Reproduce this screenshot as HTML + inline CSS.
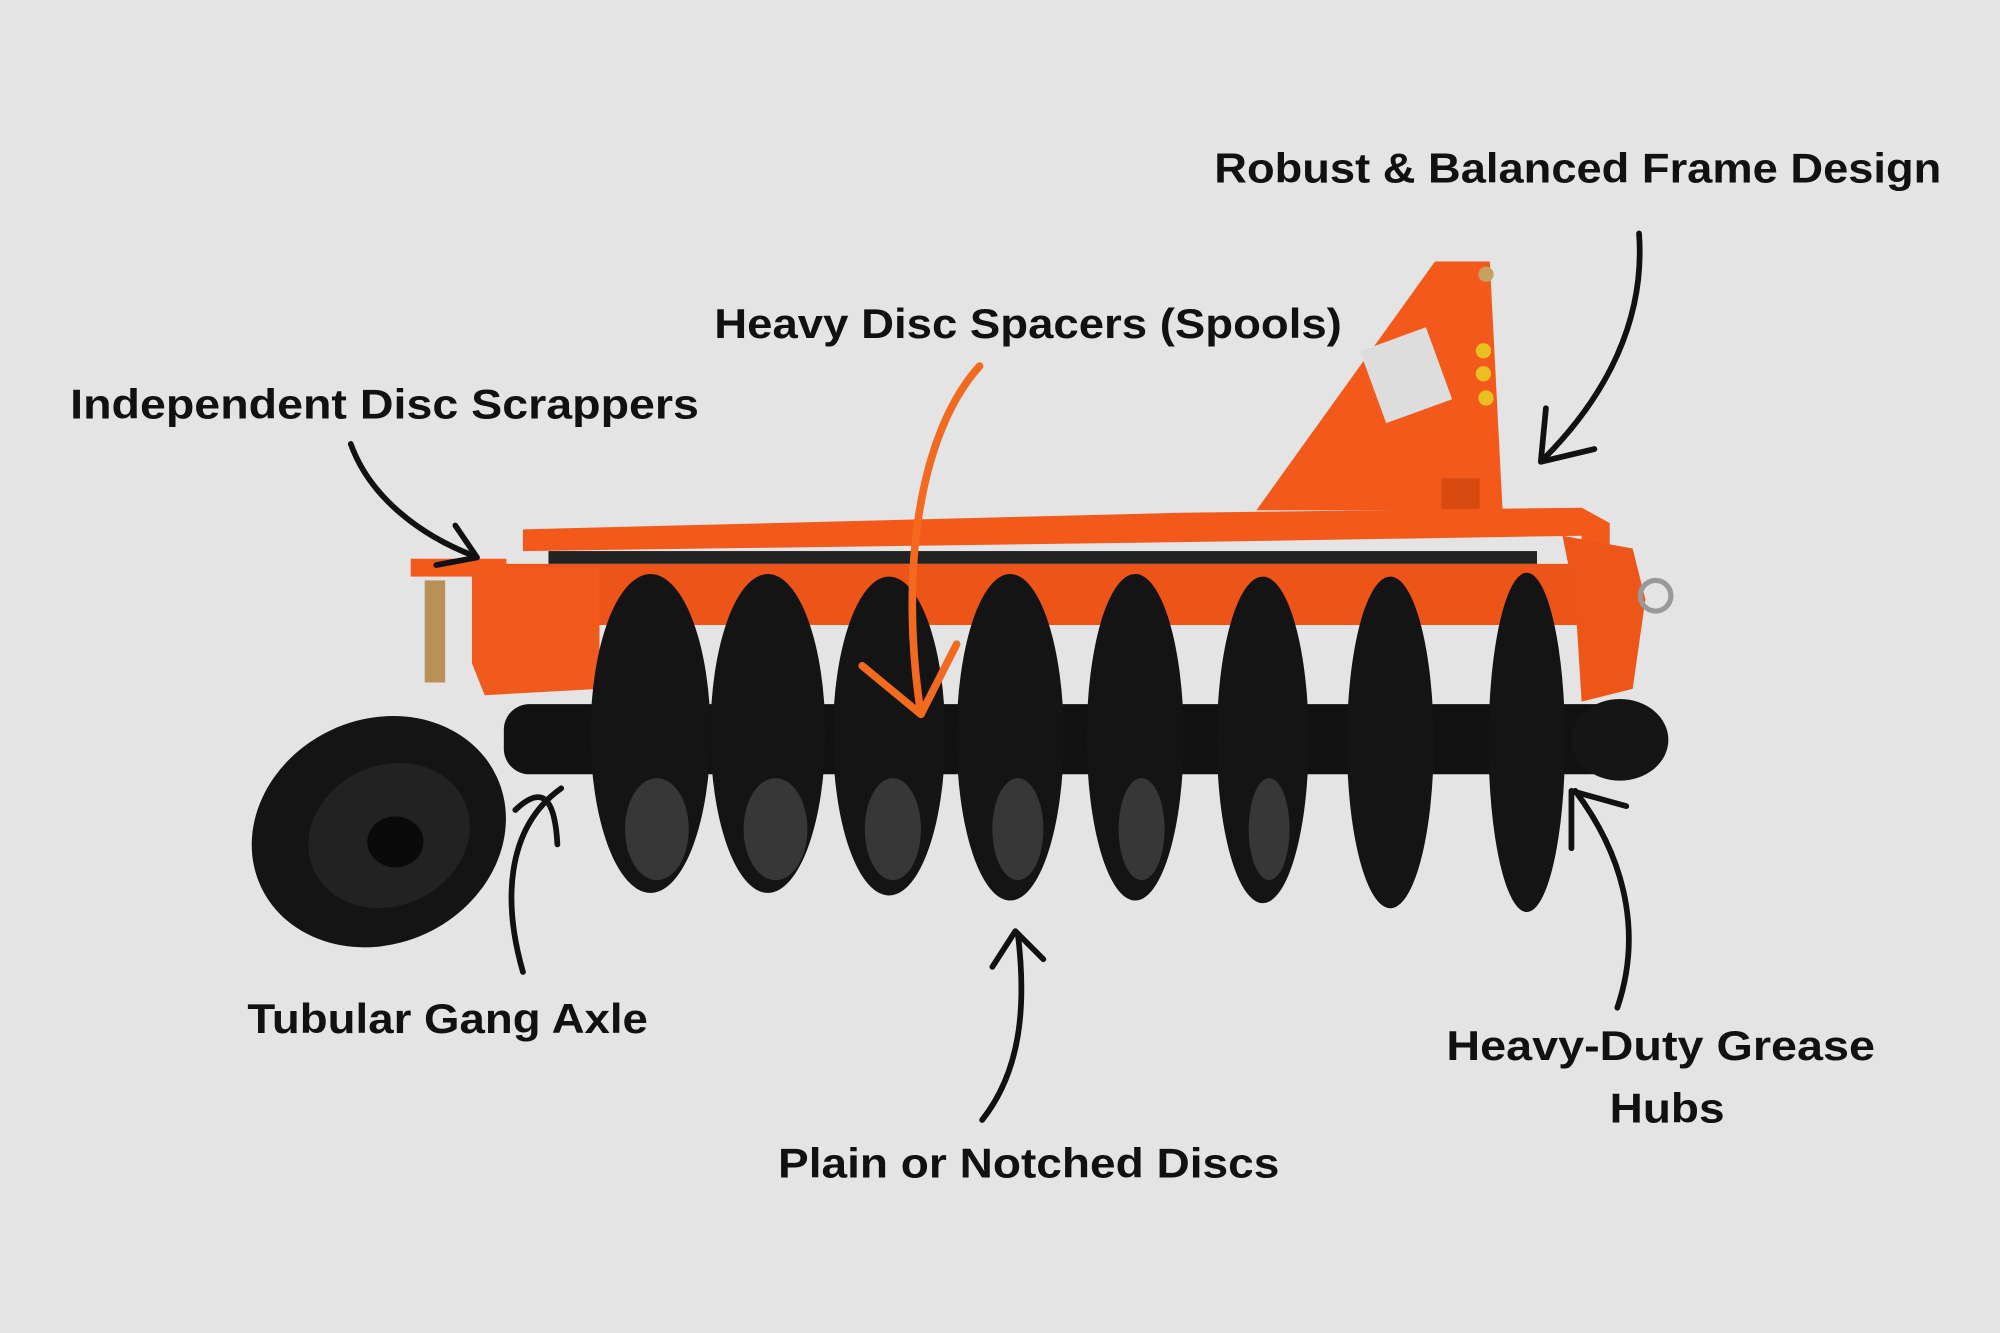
<!DOCTYPE html>
<html><head><meta charset="utf-8">
<style>
html,body{margin:0;padding:0;background:#e4e4e4;}
svg{display:block;}
text{font-family:"Liberation Sans",Arial,sans-serif;font-weight:bold;fill:#111;font-size:33px;}
</style></head>
<body>
<svg width="2000" height="1333" viewBox="0 0 1568 1045" xmlns="http://www.w3.org/2000/svg">
<rect width="1568" height="1045" fill="#e4e4e4"/>

<!-- mast -->
<polygon points="985,400 1125,205 1168,205 1178,400" fill="#f2591a"/>
<rect x="1130" y="375" width="30" height="30" fill="#d94a10"/>
<rect x="1075" y="265" width="55" height="60" fill="#ddd" transform="rotate(-20 1100 295)"/>
<circle cx="1165" cy="215" r="6" fill="#c8a060"/>
<circle cx="1163" cy="275" r="6" fill="#e8c020"/><circle cx="1163" cy="293" r="6" fill="#e8c020"/><circle cx="1165" cy="312" r="6" fill="#e8c020"/>
<!-- top frame bar -->
<polygon points="410,415 925,402 1240,398 1262,410 1262,520 1240,520 1240,420 925,425 410,432" fill="#f2591a"/>
<!-- lower tube -->
<rect x="385" y="442" width="870" height="48" rx="10" fill="#ec5418"/>
<rect x="430" y="432" width="775" height="10" fill="#222"/>
<!-- left bracket -->
<rect x="322" y="438" width="75" height="14" fill="#f2591a"/>
<polygon points="370,445 400,445 470,445 470,540 380,545 370,520" fill="#f05a1c"/>
<rect x="333" y="455" width="16" height="80" fill="#b89058"/>
<!-- right bracket -->
<polygon points="1225,420 1280,430 1290,470 1280,540 1240,550 1235,470" fill="#ee5619"/>
<circle cx="1298" cy="467" r="12" fill="none" stroke="#999" stroke-width="4"/>

<!-- axle -->
<rect x="395" y="552" width="905" height="55" rx="20" fill="#111"/>
<ellipse cx="1270" cy="580" rx="38" ry="32" fill="#151515"/>
<!-- discs -->
<g fill="#141414">
<ellipse cx="510" cy="575" rx="47" ry="125"/>
<ellipse cx="602" cy="575" rx="45" ry="125"/>
<ellipse cx="697" cy="577" rx="44" ry="125"/>
<ellipse cx="792" cy="578" rx="42" ry="128"/>
<ellipse cx="890" cy="578" rx="38" ry="128"/>
<ellipse cx="990" cy="580" rx="36" ry="128"/>
<ellipse cx="1090" cy="582" rx="34" ry="130"/>
<ellipse cx="1197" cy="582" rx="30" ry="133"/>
</g>
<g fill="#5a5a5a" opacity="0.5">
<ellipse cx="515" cy="650" rx="25" ry="40"/><ellipse cx="608" cy="650" rx="25" ry="40"/>
<ellipse cx="700" cy="650" rx="22" ry="40"/><ellipse cx="798" cy="650" rx="20" ry="40"/>
<ellipse cx="895" cy="650" rx="18" ry="40"/><ellipse cx="995" cy="650" rx="16" ry="40"/>
</g>
<!-- wheel -->
<ellipse cx="297" cy="652" rx="102" ry="88" fill="#141414" transform="rotate(-25 297 652)"/>
<ellipse cx="305" cy="655" rx="65" ry="55" fill="#222" transform="rotate(-25 305 655)"/>
<ellipse cx="310" cy="660" rx="22" ry="20" fill="#0a0a0a"/>

<!-- arrows -->
<g fill="none" stroke="#111" stroke-width="4.5" stroke-linecap="round" stroke-linejoin="round">
<path d="M1285,183 C1290,250 1260,310 1210,360"/>
<path d="M1212,320 L1208,362 L1250,352"/>
<path d="M275,348 C290,390 330,420 372,436"/>
<path d="M357,412 L374,437 L342,443"/>
<path d="M410,762 C395,710 395,650 440,618"/>
<path d="M404,635 C425,615 435,625 437,662"/>
<path d="M770,878 C800,840 805,790 798,732"/>
<path d="M778,758 L796,730 L818,752"/>
<path d="M1268,790 C1285,740 1280,680 1235,620"/>
<path d="M1232,665 L1232,620 L1275,632"/>
</g>
<g fill="none" stroke="#f26a1f" stroke-width="6" stroke-linecap="round" stroke-linejoin="round">
<path d="M768,287 C720,340 705,450 722,560"/>
<path d="M676,522 L722,560 L750,505"/>
</g>

<!-- labels -->
<text x="952" y="143" textLength="570" lengthAdjust="spacingAndGlyphs">Robust &amp; Balanced Frame Design</text>
<text x="560" y="265" textLength="492" lengthAdjust="spacingAndGlyphs">Heavy Disc Spacers (Spools)</text>
<text x="55" y="328" textLength="493" lengthAdjust="spacingAndGlyphs">Independent Disc Scrappers</text>
<text x="194" y="810" textLength="314" lengthAdjust="spacingAndGlyphs">Tubular Gang Axle</text>
<text x="610" y="923" textLength="393" lengthAdjust="spacingAndGlyphs">Plain or Notched Discs</text>
<text x="1134" y="831" textLength="336" lengthAdjust="spacingAndGlyphs">Heavy-Duty Grease</text>
<text x="1262" y="880" textLength="90" lengthAdjust="spacingAndGlyphs">Hubs</text>
</svg>
</body></html>
